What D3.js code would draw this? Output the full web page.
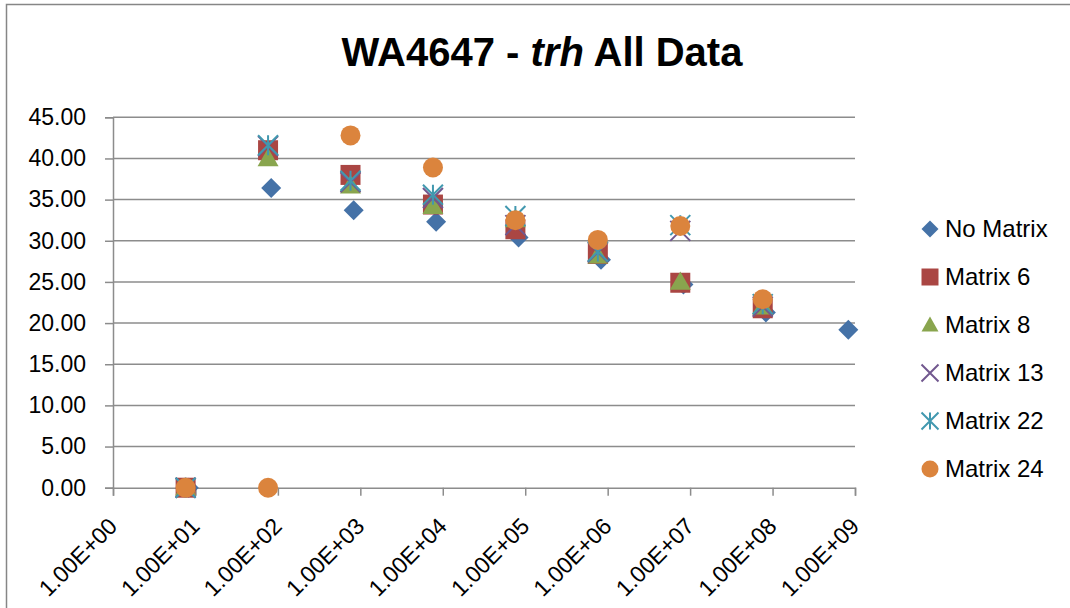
<!DOCTYPE html>
<html>
<head>
<meta charset="utf-8">
<script src="https://cdn.jsdelivr.net/npm/d3@7"></script>
<style>
  body { margin: 0; background: #fff; }
  svg { font-family: "Liberation Sans", Arial, sans-serif; }
</style>
</head>
<body>
<svg width="1070" height="608"></svg>
<script>
// concentrations (copies) – No Matrix sits a little to the right of the spiked matrices
var noMatrixX = [8.3, 83, 830, 8300, 83000, 830000, 8.3e6, 8.3e7, 8.3e8];
var matrixX = [7.6, 76, 760, 7600, 76000, 760000, 7.6e6, 7.6e7];

var noMatrixY = [0, 36.4, 33.7, 32.3, 30.4, 27.7, 24.7, 21.3, 19.2];
var matrix6Y  = [0, 41.0, 38.0, 34.4, 31.4, 28.4, 24.9, 21.8];
var matrix8Y  = [0, 40.0, 36.7, 34.2, 32.6, 28.2, 25.0, 22.0];
var matrix13Y = [0, 41.5, 37.1, 35.2, 31.9, 28.6, 31.2, 22.0];
var matrix22Y = [0, 41.6, 37.3, 35.6, 33.0, 28.7, 31.9, 22.3];
var matrix24Y = [0, 0, 42.8, 38.9, 32.5, 30.1, 31.8, 22.9];

var seriesNames = ["No Matrix", "Matrix 6", "Matrix 8", "Matrix 13", "Matrix 22", "Matrix 24"];
var yTicks = [0, 5, 10, 15, 20, 25, 30, 35, 40, 45];
var xTicks = [1, 1e1, 1e2, 1e3, 1e4, 1e5, 1e6, 1e7, 1e8, 1e9];

var series = [
  {name: seriesNames[0], xs: noMatrixX, ys: noMatrixY, shape: "diamond", color: "#4572a7"},
  {name: seriesNames[1], xs: matrixX, ys: matrix6Y, shape: "square", color: "#aa4643"},
  {name: seriesNames[2], xs: matrixX, ys: matrix8Y, shape: "triangle", color: "#89a54e"},
  {name: seriesNames[3], xs: matrixX, ys: matrix13Y, shape: "cross", color: "#71588f"},
  {name: seriesNames[4], xs: matrixX, ys: matrix22Y, shape: "star", color: "#4198af"},
  {name: seriesNames[5], xs: matrixX, ys: matrix24Y, shape: "circle", color: "#db843d"}
];

var svg = d3.select("svg");

// chart border
svg.append("rect")
    .attr("x", 6.5).attr("y", 4.5)
    .attr("width", 1100).attr("height", 700)
    .attr("fill", "none").attr("stroke", "#868686").attr("stroke-width", 1.5);

var x = d3.scaleLog().base(10).domain([1, 1e9]).range([113, 855]);
var y = d3.scaleLinear().domain([0, 45]).range([487.7, 117.3]);

// gridlines
svg.append("g").selectAll("line")
    .data(yTicks.slice(1))
  .enter().append("line")
    .attr("x1", 113).attr("x2", 855)
    .attr("y1", function(d) { return y(d); })
    .attr("y2", function(d) { return y(d); })
    .attr("stroke", "#8c8c8c").attr("stroke-width", 1.5);

// Y axis
var yAxis = d3.axisLeft(y)
    .tickValues(yTicks)
    .tickSize(8)
    .tickPadding(19)
    .tickFormat(d3.format(".2f"));

svg.append("g")
    .attr("class", "y axis")
    .attr("transform", "translate(113,0)")
    .call(yAxis);

// X axis
var xAxis = d3.axisBottom(x)
    .tickValues(xTicks)
    .tickSize(8)
    .tickFormat(function(d) {
      var e = Math.round(Math.log10(d));
      return "1.00E+" + (e < 10 ? "0" + e : e);
    });

svg.append("g")
    .attr("class", "x axis")
    .attr("transform", "translate(0," + y(0) + ")")
    .call(xAxis);

svg.selectAll(".axis path, .axis line")
    .attr("stroke", "#8c8c8c").attr("stroke-width", 1.5);
svg.selectAll(".axis text")
    .attr("fill", "#000").attr("font-size", 23);

svg.selectAll(".x.axis text")
    .attr("text-anchor", "end")
    .attr("dy", null)
    .attr("y", null)
    .attr("transform", "translate(5,40)rotate(-45)");

// marker shapes
function marker(shape, s) {
  var h = s / 2;
  if (shape == "diamond") return "M0," + (-h) + "L" + h + ",0L0," + h + "L" + (-h) + ",0Z";
  if (shape == "square") return "M" + (-h) + "," + (-h) + "h" + s + "v" + s + "h" + (-s) + "Z";
  if (shape == "triangle") return "M0," + (-h) + "L" + h + "," + (h * 0.75) + "L" + (-h) + "," + (h * 0.75) + "Z";
  if (shape == "cross") return "M" + (-h) + "," + (-h) + "L" + h + "," + h + "M" + h + "," + (-h) + "L" + (-h) + "," + h;
  if (shape == "star") return "M" + (-h) + "," + (-h) + "L" + h + "," + h + "M" + h + "," + (-h) + "L" + (-h) + "," + h + "M0," + (-h) + "L0," + h;
  return d3.symbol(d3.symbolCircle, Math.PI * h * h)();
}

function styleMarker(sel, d) {
  if (d.shape == "cross" || d.shape == "star") {
    sel.attr("fill", "none").attr("stroke", d.color).attr("stroke-width", 2);
  } else {
    sel.attr("fill", d.color).attr("stroke", "none");
  }
}

var plot = svg.append("g");
series.forEach(function(s) {
  var pts = s.ys.map(function(v, i) { return {x: s.xs[i], y: v}; });
  plot.append("g").selectAll("path")
      .data(pts)
    .enter().append("path")
      .attr("transform", function(d) { return "translate(" + x(d.x) + "," + y(d.y) + ")"; })
      .attr("d", marker(s.shape, s.shape == "triangle" ? 21 : 20))
      .call(styleMarker, s);
});

// legend
var legend = svg.append("g").attr("transform", "translate(930,229)");
series.forEach(function(s, i) {
  var row = legend.append("g").attr("transform", "translate(0," + (i * 48) + ")");
  row.append("path")
      .attr("d", marker(s.shape, 17))
      .call(styleMarker, s);
  row.append("text")
      .attr("x", 15).attr("y", 8)
      .attr("font-size", 24)
      .text(s.name);
});

// title
var title = svg.append("text")
    .attr("x", 542).attr("y", 66)
    .attr("text-anchor", "middle")
    .attr("font-size", 40)
    .attr("font-weight", "bold");
title.append("tspan").text("WA4647 - ");
title.append("tspan").attr("font-style", "italic").text("trh");
title.append("tspan").text(" All Data");
</script>
</body>
</html>
